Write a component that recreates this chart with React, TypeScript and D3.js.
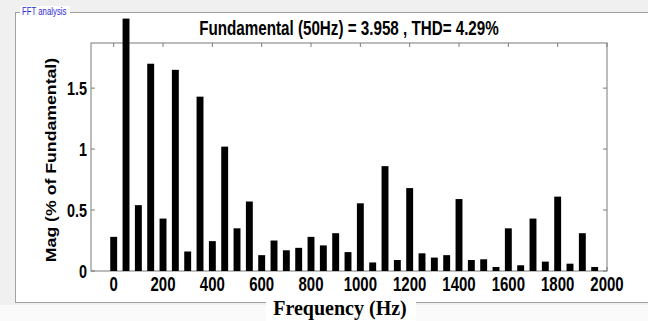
import * as d3 from "d3"

// FFT harmonic spectrum, 0..1950 Hz in 50 Hz steps
const freqs = d3.range(0, 2000, 50)
const mags = [
  0.28, 2.07, 0.54, 1.7, 0.43, 1.65, 0.16, 1.43, 0.245, 1.02,
  0.35, 0.57, 0.13, 0.25, 0.17, 0.19, 0.28, 0.21, 0.31, 0.155,
  0.555, 0.07, 0.86, 0.09, 0.68, 0.145, 0.11, 0.13, 0.59, 0.09,
  0.096, 0.033, 0.35, 0.047, 0.43, 0.077, 0.61, 0.06, 0.31, 0.033,
]
const xTicks = [0, 200, 400, 600, 800, 1000, 1200, 1400, 1600, 1800, 2000]
const yTicks = [0, 0.5, 1, 1.5]
const yTickLabels = ["0", "0.5", "1", "1.5"]

const W = 648
const H = 321
const plot = { left: 91, right: 607, top: 43, bottom: 271 }

export default function App() {
  const x = d3.scaleLinear().domain([-92, 2000]).range([plot.left, plot.right])
  const y = d3.scaleLinear().domain([0, 1.87]).range([plot.bottom, plot.top])
  const barW = x(14) - x(-14)
  const axisColor = "#7a7a7a"
  const sans = "'Liberation Sans', Arial, sans-serif"

  return (
    <div style={{ position: "fixed", left: 0, top: 0 }}>
      <svg width={W} height={H} style={{ display: "block" }}>
        <rect x={0} y={0} width={W} height={H} fill="#f0f0f0" />
        {/* panel */}
        <rect x={15.5} y={12.5} width={700} height={290} fill="#fff" stroke="#a0a0a0" />
        <rect x={0} y={305} width={W} height={16} fill="#fafafa" />
        <rect x={20} y={6} width={50} height={12} fill="#fff" />
        <text
          transform="translate(22,15) scale(1,1.3)"
          fontFamily={sans}
          fontSize={7.8}
          fill="#2b2bd6"
        >
          FFT analysis
        </text>

        {/* title */}
        <text
          transform={`translate(${(plot.left + plot.right) / 2},35) scale(1,1.28)`}
          textAnchor="middle"
          fontFamily={sans}
          fontWeight="bold"
          fontSize={15.2}
          fill="#000"
        >
          Fundamental (50Hz) = 3.958 , THD= 4.29%
        </text>

        {/* axes box */}
        <rect
          x={plot.left}
          y={plot.top}
          width={plot.right - plot.left}
          height={plot.bottom - plot.top}
          fill="none"
          stroke={axisColor}
        />
        {xTicks.map((t) => (
          <g key={"xt" + t}>
            <line x1={x(t)} x2={x(t)} y1={plot.top} y2={plot.top + 4} stroke={axisColor} />
            <line x1={x(t)} x2={x(t)} y1={plot.bottom} y2={plot.bottom - 4} stroke={axisColor} />
            <text
              transform={`translate(${x(t)},291) scale(1,1.35)`}
              textAnchor="middle"
              fontFamily={sans}
              fontWeight="bold"
              fontSize={15}
            >
              {t}
            </text>
          </g>
        ))}
        {yTicks.map((t, i) => (
          <g key={"yt" + t}>
            <line x1={plot.left} x2={plot.left + 4} y1={y(t)} y2={y(t)} stroke={axisColor} />
            <line x1={plot.right} x2={plot.right - 4} y1={y(t)} y2={y(t)} stroke={axisColor} />
            <text
              transform={`translate(87,${y(t) + 6.5}) scale(1,1.28)`}
              textAnchor="end"
              fontFamily={sans}
              fontWeight="bold"
              fontSize={14.4}
            >
              {yTickLabels[i]}
            </text>
          </g>
        ))}

        {/* bars */}
        {freqs.map((f, i) => (
          <rect
            key={"b" + f}
            x={x(f) - barW / 2}
            y={y(mags[i])}
            width={barW}
            height={plot.bottom - y(mags[i])}
            fill="#000"
          />
        ))}

        {/* y label */}
        <text
          transform="translate(56,160) rotate(-90) scale(1.18,1)"
          textAnchor="middle"
          fontFamily={sans}
          fontWeight="bold"
          fontSize={15}
        >
          Mag (% of Fundamental)
        </text>

        {/* x label */}
        <rect x={266} y={296} width={150} height={25} fill="#fff" />
        <text
          x={340}
          y={315}
          textAnchor="middle"
          fontFamily="'Liberation Serif', 'Times New Roman', serif"
          fontWeight="bold"
          fontSize={20}
        >
          Frequency (Hz)
        </text>
      </svg>
    </div>
  )
}
